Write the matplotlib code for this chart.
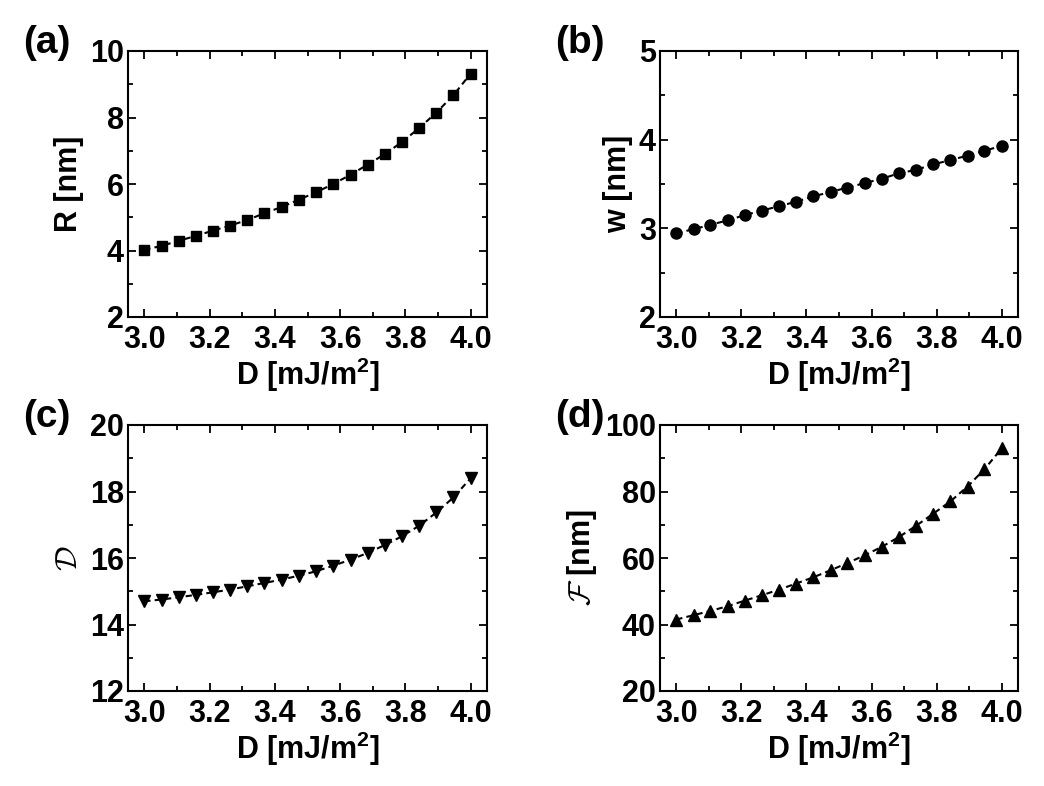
import matplotlib

matplotlib.use("Agg")
import matplotlib.pyplot as plt
from matplotlib.ticker import AutoMinorLocator, MultipleLocator

plt.rcParams["font.family"] = ["Liberation Sans", "DejaVu Sans"]
plt.rcParams["font.weight"] = "bold"
plt.rcParams["mathtext.fontset"] = "cm"
plt.rcParams["mathtext.rm"] = "Liberation Sans"
plt.rcParams["mathtext.bf"] = "Liberation Sans:bold"

# DMI constant D [mJ/m^2]
d_vals = [3.000, 3.053, 3.105, 3.158, 3.211, 3.263, 3.316, 3.368, 3.421, 3.474,
          3.526, 3.579, 3.632, 3.684, 3.737, 3.789, 3.842, 3.895, 3.947, 4.000]

radius = [4.02, 4.14, 4.29, 4.44, 4.60, 4.75, 4.92, 5.12, 5.31, 5.53,
          5.75, 6.00, 6.28, 6.58, 6.90, 7.26, 7.68, 8.15, 8.67, 9.32]
width = [2.945, 2.99, 3.04, 3.09, 3.15, 3.20, 3.25, 3.30, 3.36, 3.41,
         3.46, 3.51, 3.56, 3.62, 3.66, 3.72, 3.77, 3.82, 3.875, 3.93]
dissip = [14.70, 14.75, 14.82, 14.89, 14.97, 15.05, 15.15, 15.25, 15.35, 15.47,
          15.60, 15.77, 15.95, 16.15, 16.39, 16.65, 16.97, 17.37, 17.82, 18.40]
force = [41.5, 42.8, 44.1, 45.5, 47.2, 48.8, 50.5, 52.3, 54.2, 56.3,
         58.5, 60.8, 63.4, 66.3, 69.7, 73.3, 77.0, 81.5, 86.7, 93.0]

panels = [
    ("(a)", radius, "s", 7, "R [nm]", (2, 10), 2),
    ("(b)", width, "o", 8, "w [nm]", (2, 5), 1),
    ("(c)", dissip, "v", 8.5, r"$\mathcal{D}$", (12, 20), 2),
    ("(d)", force, "^", 8.5, r"$\mathcal{F}$ [nm]", (20, 100), 20),
]

fig = plt.figure(figsize=(10.44, 7.86), dpi=100)
W, H = 1044, 786
# axes boxes in pixels: left, top, right, bottom
boxes = [(128, 51, 487, 317), (660, 51, 1018, 317),
         (128, 425, 487, 691), (660, 425, 1018, 691)]

for (tag, vals, mk, ms, ylab, ylim, ystep), (l, t, r, b) in zip(panels, boxes):
    ax = fig.add_axes([l / W, 1 - b / H, (r - l) / W, (b - t) / H])
    ax.plot(d_vals, vals, color="black", ls=(0, (3, 2)), lw=1.5,
            marker=mk, ms=ms, mfc="black", mec="black")
    ax.set_xlim(2.95, 4.05)
    ax.set_ylim(*ylim)
    ax.xaxis.set_major_locator(MultipleLocator(0.2))
    ax.xaxis.set_minor_locator(AutoMinorLocator(2))
    ax.yaxis.set_major_locator(MultipleLocator(ystep))
    ax.yaxis.set_minor_locator(AutoMinorLocator(2))
    ax.tick_params(which="both", direction="in", top=True, right=True, width=1.3)
    ax.tick_params(which="major", length=6, labelsize=22, pad=3)
    ax.tick_params(axis="x", which="major", pad=6)
    ax.tick_params(which="minor", length=3.5)
    for lab in ax.get_xticklabels() + ax.get_yticklabels():
        lab.set_fontweight("bold")
    for s in ax.spines.values():
        s.set_linewidth(1.5)
    ax.set_xlabel(r"D [mJ/m$^{\mathbf{2}}$]", fontsize=22, fontweight="bold",
                  labelpad=0, math_fontfamily="custom")
    ax.set_ylabel(ylab, fontsize=22, fontweight="bold", labelpad=4)
    fig.text((l - 105) / W, 1 - (t - 8) / H, tag, fontsize=28, fontweight="bold",
             ha="left", va="center")

fig.savefig("out.png", dpi=100, facecolor="white")
